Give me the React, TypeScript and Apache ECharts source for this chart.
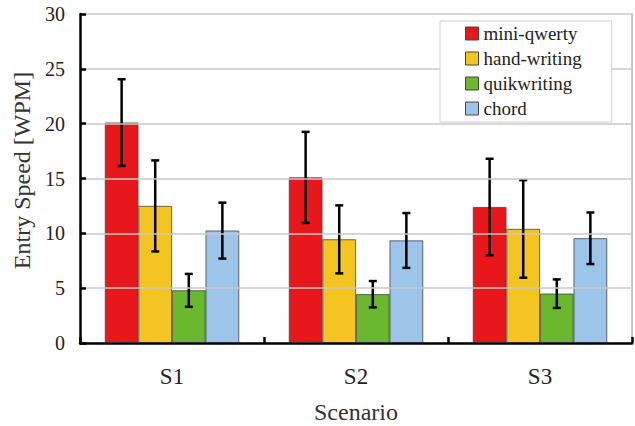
import React, { useEffect, useRef } from "react";
import * as echarts from "echarts";

const categories = ["S1", "S2", "S3"];
const seriesNames = ["mini-qwerty", "hand-writing", "quikwriting", "chord"];
const miniQwerty = [20.1, 15.1, 12.4];
const handWriting = [12.5, 9.45, 10.4];
const quikwriting = [4.8, 4.45, 4.5];
const chord = [10.25, 9.35, 9.55];
const miniQwertyErr = [3.95, 4.15, 4.4];
const handWritingErr = [4.15, 3.1, 4.45];
const quikwritingErr = [1.5, 1.2, 1.3];
const chordErr = [2.55, 2.5, 2.35];
const yTicks = [0, 5, 10, 15, 20, 25, 30];

const values = [miniQwerty, handWriting, quikwriting, chord];
const errors = [miniQwertyErr, handWritingErr, quikwritingErr, chordErr];
const colors = ["#e8171c", "#f4c421", "#69b82d", "#9cc5e9"];
const CAT_GAP = 0.27;
const FONT = "'Times New Roman', 'Liberation Serif', serif";

export default function App() {
  const ref = useRef<HTMLDivElement>(null);
  useEffect(() => {
    if (!ref.current) return;
    const chart = echarts.init(ref.current, undefined, { renderer: "svg" });
    const barSeries = values.map((v, i) => ({
      type: "bar",
      name: seriesNames[i],
      data: v,
      barGap: "0%",
      barCategoryGap: CAT_GAP * 100 + "%",
      itemStyle: { color: colors[i], borderColor: "#444", borderWidth: 0.8 },
      z: 2,
    }));
    const errSeries = values.map((v, i) => ({
      type: "custom",
      name: seriesNames[i] + "-err",
      data: v.map((val, j) => [j, val - errors[i][j], val + errors[i][j]]),
      z: 5,
      silent: true,
      renderItem: (params: any, api: any) => {
        const cat = api.value(0);
        const lo = api.coord([cat, api.value(1)]);
        const hi = api.coord([cat, api.value(2)]);
        const band = api.size([1, 0])[0];
        const bw = (band * (1 - CAT_GAP)) / 4;
        const x = lo[0] + (i - 1.5) * bw;
        const cap = 4;
        const style = { stroke: "#000", lineWidth: 2.5 };
        return {
          type: "group",
          children: [
            { type: "line", shape: { x1: x, y1: lo[1], x2: x, y2: hi[1] }, style },
            { type: "line", shape: { x1: x - cap, y1: lo[1], x2: x + cap, y2: lo[1] }, style },
            { type: "line", shape: { x1: x - cap, y1: hi[1], x2: x + cap, y2: hi[1] }, style },
          ],
        };
      },
    }));
    chart.setOption({
      animation: false,
      backgroundColor: "#fff",
      textStyle: { fontFamily: FONT },
      grid: { left: 80, right: 3, top: 14, bottom: 83, outerBoundsMode: "none", containLabel: false },
      legend: {
        data: seriesNames,
        orient: "vertical",
        left: 440,
        top: 21,
        backgroundColor: "#fff",
        borderColor: "#cfcfcf",
        borderWidth: 1,
        borderRadius: 0,
        padding: [3, 30, 4, 25],
        itemWidth: 13,
        itemHeight: 13,
        itemGap: 6,
        textStyle: { fontFamily: FONT, fontSize: 19, color: "#222" },
        itemStyle: { borderColor: "#444", borderWidth: 1 },
        icon: "rect",
        z: 10,
      },
      xAxis: {
        type: "category",
        data: categories,
        name: "Scenario",
        nameLocation: "middle",
        nameGap: 57,
        nameTextStyle: { fontFamily: FONT, fontSize: 24, color: "#333" },
        axisLine: { lineStyle: { color: "#000", width: 2.5 } },
        axisTick: { show: true, inside: true, length: 6, lineStyle: { color: "#000", width: 2.5 } },
        axisLabel: { fontFamily: FONT, fontSize: 23, color: "#222", margin: 22 },
        z: 6,
      },
      yAxis: [
        {
          type: "value",
          min: yTicks[0],
          max: yTicks[yTicks.length - 1],
          interval: 5,
          name: "Entry Speed [WPM]",
          nameLocation: "middle",
          nameGap: 43,
          nameTextStyle: { fontFamily: FONT, fontSize: 24, color: "#333", padding: [0, 0, 0, 16] },
          axisLine: { show: true, lineStyle: { color: "#000", width: 2.5 } },
          axisTick: { show: true, inside: true, length: 6, lineStyle: { color: "#000", width: 2.5 } },
          axisLabel: { fontFamily: FONT, fontSize: 20, color: "#222", margin: 15 },
          splitLine: { show: true, lineStyle: { color: "#c8c8c8", width: 1.5 } },
          z: 6,
        },
        {
          type: "value",
          position: "right",
          min: yTicks[0],
          max: yTicks[yTicks.length - 1],
          interval: 5,
          axisLine: { show: true, lineStyle: { color: "#b5b5b5", width: 1.5 } },
          axisTick: { show: false },
          axisLabel: { show: false },
          splitLine: { show: false },
        },
      ],
      series: [...barSeries, ...errSeries],
    });
    return () => chart.dispose();
  }, []);
  return <div ref={ref} style={{ width: 635, height: 426, position: "fixed", left: 0, top: 0 }} />;
}
